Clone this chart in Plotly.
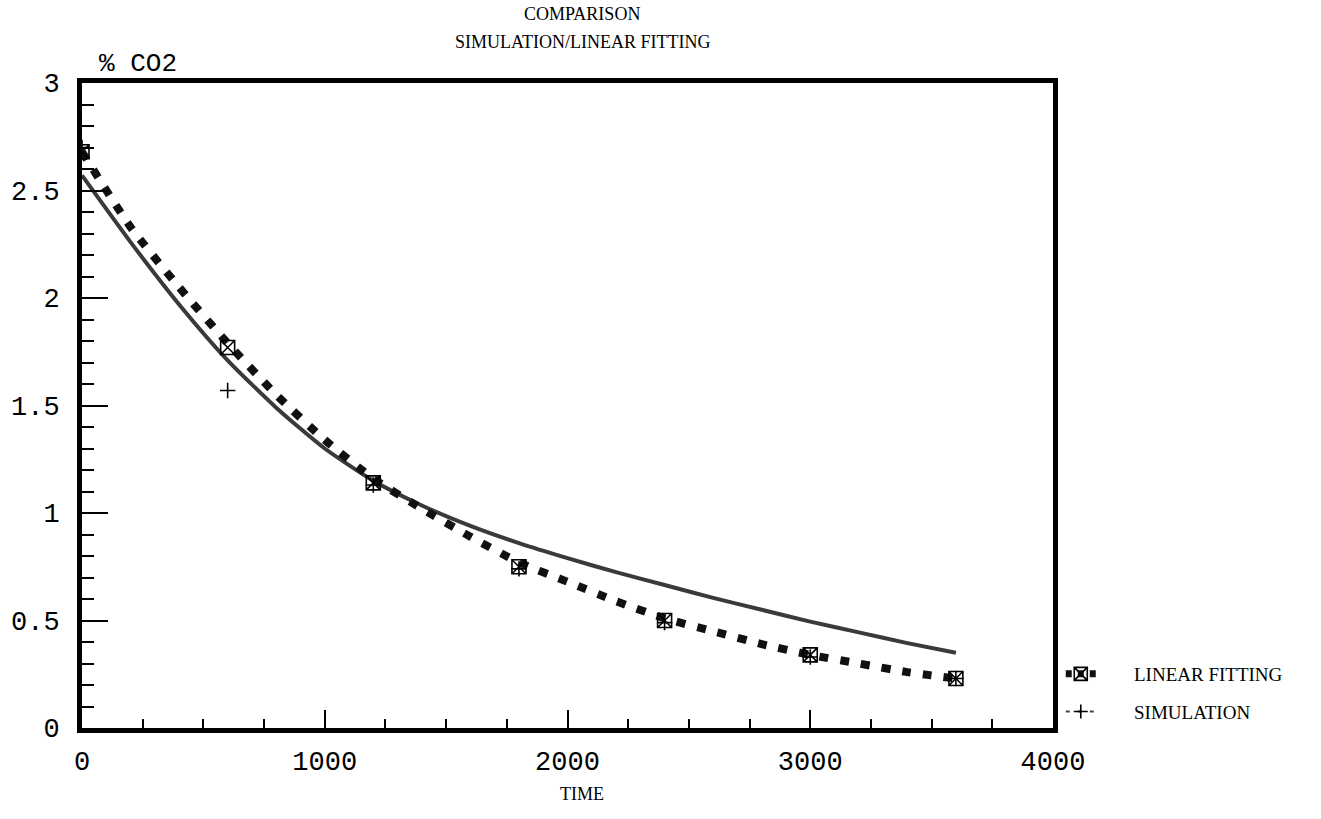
import plotly.graph_objects as go

# ---- data ----
time_curve = [0, 200, 400, 600, 800, 1000, 1200, 1400, 1600, 1800,
              2000, 2200, 2400, 2600, 2800, 3000, 3200, 3400, 3600]
simulation_curve = [2.57, 2.26, 1.97, 1.71, 1.49, 1.30, 1.15, 1.035, 0.94, 0.86,
                    0.79, 0.725, 0.665, 0.605, 0.55, 0.495, 0.445, 0.395, 0.35]
linear_fit_curve = [2.68, 2.33, 2.05, 1.79, 1.55, 1.34, 1.16, 1.02, 0.89, 0.77,
                    0.68, 0.59, 0.51, 0.45, 0.39, 0.34, 0.30, 0.26, 0.23]

time_points = [0, 600, 1200, 1800, 2400, 3000, 3600]
linear_fit_points = [2.68, 1.77, 1.14, 0.75, 0.50, 0.34, 0.23]
simulation_points = [2.70, 1.57, 1.13, 0.74, 0.49, 0.33, 0.23]

x_ticks = [0, 1000, 2000, 3000, 4000]
x_labels = ["0", "1000", "2000", "3000", "4000"]
y_ticks = [0, 0.5, 1, 1.5, 2, 2.5, 3]
y_labels = ["0", "0.5", "1", "1.5", "2", "2.5", "3"]

MONO = "Liberation Mono"
SERIF = "Liberation Serif"
NB = "\u00a0" * 7

fig = go.Figure()

# simulation continuous curve
fig.add_trace(go.Scatter(
    x=time_curve, y=simulation_curve, mode="lines",
    line=dict(color="#3a3a3a", width=4, shape="spline", smoothing=0.6),
    showlegend=False, hoverinfo="skip"))

# linear fitting dashed curve
fig.add_trace(go.Scatter(
    x=time_curve, y=linear_fit_curve, mode="lines",
    line=dict(color="#111111", width=8, dash="9px,12px", shape="spline", smoothing=0.6),
    showlegend=False, hoverinfo="skip"))

# simulation points (+)
fig.add_trace(go.Scatter(
    x=time_points, y=simulation_points, mode="markers",
    marker=dict(symbol="cross-thin-open", size=11, color="black",
                line=dict(color="black", width=1.6)),
    showlegend=False))

# linear fitting markers
fig.add_trace(go.Scatter(
    x=time_points, y=linear_fit_points, mode="markers",
    marker=dict(symbol="square-x-open", size=14, color="black",
                line=dict(color="black", width=1.6)),
    showlegend=False))

# legend entries
fig.add_trace(go.Scatter(
    x=[None], y=[None], mode="lines+markers", name=NB + "LINEAR FITTING",
    legendgroup="lf",
    line=dict(color="#111111", width=7, dash="6px,6px"),
    marker=dict(symbol="square-x-open", size=13, color="black",
                line=dict(color="black", width=1.6))))
fig.add_trace(go.Scatter(
    x=[None], y=[None], mode="lines+markers", name=NB + "SIMULATION",
    legendgroup="sim",
    line=dict(color="#444444", width=2, dash="4px,8px"),
    marker=dict(symbol="cross-thin-open", size=10, color="black",
                line=dict(color="black", width=1.6))))

plot_h = 819 - 83 - 91
plot_w = 1321 - 82 - 268


def py(pix):
    return (728 - pix) / plot_h


def px(pix):
    return (pix - 82) / plot_w


fig.update_layout(
    width=1321, height=819,
    margin=dict(l=82, r=268, t=83, b=91),
    paper_bgcolor="white", plot_bgcolor="white",
    showlegend=True,
    legend=dict(x=1.008, y=py(655), xanchor="left", yanchor="top",
                font=dict(family=SERIF, size=19, color="black"),
                bgcolor="rgba(0,0,0,0)", tracegroupgap=10,
                traceorder="grouped"),
    annotations=[
        dict(text="COMPARISON", x=px(582), y=py(14), xref="paper", yref="paper",
             showarrow=False, xanchor="center", yanchor="middle",
             font=dict(family=SERIF, size=18, color="black")),
        dict(text="SIMULATION/LINEAR FITTING", x=px(582), y=py(42), xref="paper", yref="paper",
             showarrow=False, xanchor="center", yanchor="middle",
             font=dict(family=SERIF, size=18, color="black")),
        dict(text="% CO2", x=px(97), y=py(64), xref="paper", yref="paper",
             showarrow=False, xanchor="left", yanchor="middle",
             font=dict(family=MONO, size=26, color="black")),
        dict(text="TIME", x=px(582), y=py(794), xref="paper", yref="paper",
             showarrow=False, xanchor="center", yanchor="middle",
             font=dict(family=SERIF, size=18, color="black")),
    ],
)

fig.update_xaxes(
    range=[0, 4000], tickmode="array", tickvals=x_ticks, ticktext=x_labels,
    ticks="inside", ticklen=18, tickwidth=2, tickcolor="black",
    minor=dict(dtick=250, ticks="inside", ticklen=9, tickwidth=2, tickcolor="black"),
    showgrid=False, zeroline=False,
    showline=True, linewidth=5, linecolor="black", mirror=True,
    tickfont=dict(family=MONO, size=27, color="black"),
    ticklabelstandoff=5,
)
fig.update_yaxes(
    range=[0, 3], tickmode="array", tickvals=y_ticks, ticktext=y_labels,
    ticks="inside", ticklen=26, tickwidth=2, tickcolor="black",
    minor=dict(dtick=0.1, ticks="inside", ticklen=12, tickwidth=2, tickcolor="black"),
    showgrid=False, zeroline=False,
    showline=True, linewidth=5, linecolor="black", mirror=True,
    tickfont=dict(family=MONO, size=27, color="black"),
    ticklabelstandoff=12,
)

fig.write_html("out.html")
